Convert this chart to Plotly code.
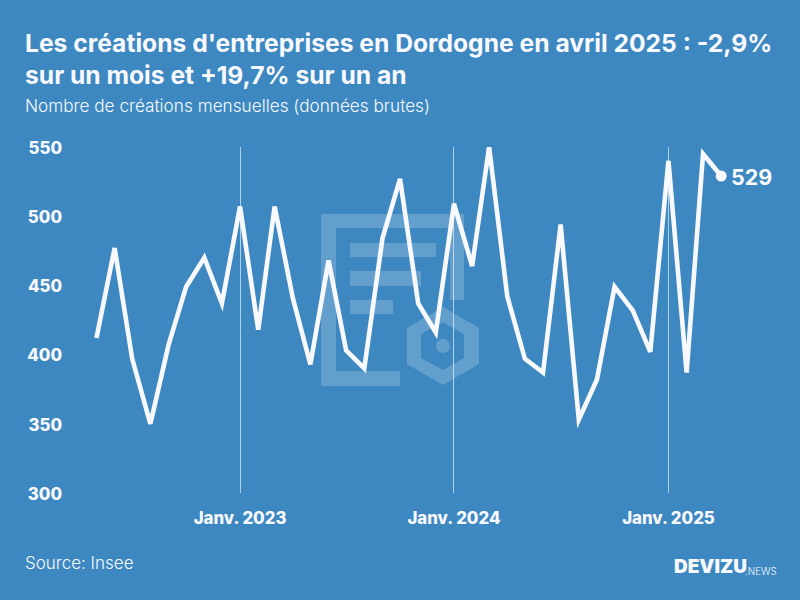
import plotly.graph_objects as go

months = ["2022-05","2022-06","2022-07","2022-08","2022-09","2022-10","2022-11","2022-12",
          "2023-01","2023-02","2023-03","2023-04","2023-05","2023-06","2023-07","2023-08","2023-09","2023-10","2023-11","2023-12",
          "2024-01","2024-02","2024-03","2024-04","2024-05","2024-06","2024-07","2024-08","2024-09","2024-10","2024-11","2024-12",
          "2025-01","2025-02","2025-03","2025-04"]
creations = [412,477,397,350,407,449,470,437,
             507,418,507,441,393,468,403,390,484,527,437,416,
             509,464,550,442,397,387,494,353,382,449,432,402,
             540,387,545,529]
x_tick_vals = ["2023-01-01","2024-01-01","2025-01-01"]
x_tick_text = ["Janv. 2023","Janv. 2024","Janv. 2025"]
y_tick_vals = [300,350,400,450,500,550]

BG = "#3d88c0"
WHITE = "#f8f9ff"
FONT = "Inter"
MARK = "rgba(255,255,255,0.2)"
W, H = 800, 600
L, R, T, B = 66, 730, 147, 493

def fx(p): return (p - L) / (R - L)
def fy(p): return (B - p) / (B - T)
def path(points):
    return "M" + " L".join(f"{fx(a):.5f},{fy(b):.5f}" for a, b in points) + " Z"

wm_paths = [
    path([(321,214),(464,214),(464,300),(450,300),(450,228),(336,228),(336,371),(400,371),(400,386),(321,386)]),
    path([(350,243),(436,243),(436,257),(350,257)]),
    path([(350,271),(421,271),(421,286),(350,286)]),
    path([(350,300),(393,300),(393,314),(350,314)]),
    path([(443,307),(479,328),(479,364),(443,385),(407,364),(407,328)]) +
    " " + path([(443,322),(421,334),(421,358),(443,370),(464,358),(464,334)]),
]
shapes = [dict(type="path", xref="paper", yref="paper", path=p, fillcolor=MARK,
               line=dict(width=0), layer="below") for p in wm_paths]
shapes.append(dict(type="circle", xref="paper", yref="paper", x0=fx(436), x1=fx(450), y0=fy(353), y1=fy(339),
                   fillcolor=MARK, line=dict(width=0), layer="below"))

fig = go.Figure()
fig.add_trace(go.Scatter(x=months, y=creations, mode="lines",
                         line=dict(color=WHITE, width=4.6), hoverinfo="skip", showlegend=False))
fig.add_trace(go.Scatter(x=months[-1:], y=creations[-1:], mode="markers",
                         marker=dict(color=WHITE, size=11),
                         cliponaxis=False, hoverinfo="skip", showlegend=False))

def note(text, x, y, size, weight=400, anchor="left", yanchor="middle"):
    return dict(text=text, xref="paper", yref="paper", x=fx(x), y=fy(y), xanchor=anchor, yanchor=yanchor,
                showarrow=False, align="left", borderpad=0,
                font=dict(family=FONT, size=size, color=WHITE, weight=weight))

fig.update_layout(
    width=W, height=H, autosize=False,
    paper_bgcolor=BG, plot_bgcolor="rgba(0,0,0,0)",
    margin=dict(l=L, r=W-R, t=T, b=H-B, pad=0),
    title=dict(text="Les créations d'entreprises en Dordogne en avril 2025 : -2,9%<br>sur un mois et +19,7% sur un an",
               x=25/W, xanchor="left", y=1-52/H, yanchor="middle",
               font=dict(family=FONT, size=24.65, color=WHITE, weight=700)),
    xaxis=dict(type="date", range=["2022-03-10","2025-04-16"], tickmode="array",
               tickvals=x_tick_vals, ticktext=x_tick_text, showgrid=True,
               gridcolor="rgba(255,255,255,0.6)", gridwidth=1, zeroline=False, showline=False, ticks="",
               ticklabelstandoff=13, tickangle=0,
               tickfont=dict(family=FONT, size=16.8, color=WHITE, weight=800)),
    yaxis=dict(range=[300,550], tickmode="array", tickvals=y_tick_vals, showgrid=False,
               zeroline=False, showline=False, ticks="", ticklabelstandoff=3, ticklabelshift=1,
               tickfont=dict(family=FONT, size=16.8, color=WHITE, weight=800)),
    shapes=shapes,
    annotations=[
        note("Nombre de créations mensuelles (données brutes)", 24, 105, 17.2, 300),
        note("Source: Insee", 24, 563, 17, 300),
        note("DEVIZU", 673, 566, 19, 900),
        note(".NEWS", 744, 571, 9.8, 300),
        dict(text=str(creations[-1]), xref="x", yref="y", x=months[-1] + "-01", y=creations[-1],
             xanchor="left", yanchor="middle", xshift=9, yshift=-1, showarrow=False, borderpad=0,
             font=dict(family=FONT, size=21.5, color=WHITE, weight=700)),
    ],
)
fig.write_html("out.html", config={"displayModeBar": False},
               post_script="document.body.style.margin='0';"
                           "var s=document.createElement('style');"
                           "s.textContent='.js-line{stroke-linejoin:miter !important;stroke-miterlimit:4 !important}';"
                           "document.head.appendChild(s);")
